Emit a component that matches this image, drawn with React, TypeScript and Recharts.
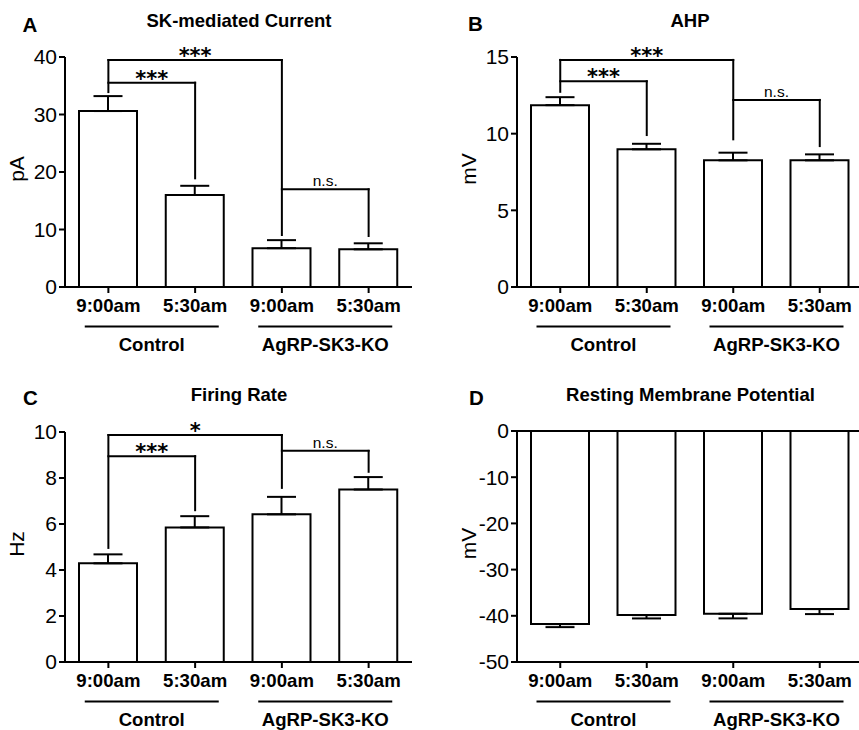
import React from 'react';
import { BarChart, Bar, XAxis, YAxis, ErrorBar, ReferenceLine } from 'recharts';

const FONT = '"Liberation Sans", Arial, Helvetica, sans-serif';
const STAR_FONT = '"DejaVu Sans", "Liberation Sans", sans-serif';

// ---- categories ----
const barKeys = ['ctl-0900', 'ctl-0530', 'ko-0900', 'ko-0530'];
const timeLabels = ['9:00am', '5:30am', '9:00am', '5:30am'];
const groupLabels = ['Control', 'AgRP-SK3-KO'];

// ---- series values (mean, SEM) ----
const skCurrent = [30.6, 16.0, 6.75, 6.55];
const skCurrentSem = [2.6, 1.6, 1.4, 1.05];
const ahp = [11.86, 8.98, 8.26, 8.26];
const ahpSem = [0.52, 0.36, 0.5, 0.39];
const firingRate = [4.29, 5.85, 6.42, 7.5];
const firingRateSem = [0.39, 0.49, 0.76, 0.54];
const restingPotential = [-41.8, -39.85, -39.56, -38.55];
const restingPotentialSem = [0.65, 0.72, 1.0, 1.08];

// ---- tick labels ----
const skTicks = [0, 10, 20, 30, 40];
const ahpTicks = [0, 5, 10, 15];
const firingTicks = [0, 2, 4, 6, 8, 10];
const rmpTicks = [-50, -40, -30, -20, -10, 0];

// ---- significance brackets: from bar, to bar, bracket level, leg end under "from" (null = none), leg end under "to", text ----
type Bracket = { from: number; to: number; level: number; fromEnd: number | null; toEnd: number; text: string };
const skBrackets: Bracket[] = [
  { from: 0, to: 2, level: 39.48, fromEnd: 33.9, toEnd: 9.04, text: '***' },
  { from: 0, to: 1, level: 35.53, fromEnd: null, toEnd: 18.9, text: '***' },
  { from: 2, to: 3, level: 16.99, fromEnd: null, toEnd: 8.87, text: 'n.s.' },
];
const ahpBrackets: Bracket[] = [
  { from: 0, to: 2, level: 14.81, fromEnd: 12.73, toEnd: 9.63, text: '***' },
  { from: 0, to: 1, level: 13.42, fromEnd: null, toEnd: 9.91, text: '***' },
  { from: 2, to: 3, level: 12.2, fromEnd: null, toEnd: 9.19, text: 'n.s.' },
];
const firingBrackets: Bracket[] = [
  { from: 0, to: 2, level: 9.87, fromEnd: 4.96, toEnd: 7.57, text: '*' },
  { from: 0, to: 1, level: 8.95, fromEnd: null, toEnd: 6.6, text: '***' },
  { from: 2, to: 3, level: 9.18, fromEnd: null, toEnd: 8.27, text: 'n.s.' },
];

type Row = { key: string; value: number; err: [number, number] };
function buildRows(values: number[], sem: number[], downward: boolean): Row[] {
  return barKeys.map((k, i) => ({
    key: k,
    value: values[i],
    err: downward ? [sem[i], 0] : [0, sem[i]],
  }));
}

const BLACK = '#000';

const BracketText = (props: any) => {
  const vb = props.viewBox || {};
  let cx: number;
  let y: number;
  if (vb.x1 != null) {
    cx = (vb.x1 + vb.x2) / 2;
    y = Math.min(vb.y1, vb.y2);
  } else {
    cx = (vb.x ?? 0) + (vb.width ?? 0) / 2;
    y = vb.y ?? 0;
  }
  const stars = String(props.text).includes('*');
  return (
    <text
      x={cx}
      y={stars ? y + 3 : y - 3.3}
      textAnchor="middle"
      fontFamily={stars ? STAR_FONT : FONT}
      fontWeight={stars ? 'bold' : 'normal'}
      fontSize={stars ? 21 : 15.5}
      fill={BLACK}
    >
      {props.text}
    </text>
  );
};

const AxisTitle = (props: any) => {
  const vb = props.viewBox || {};
  const cx = (vb.x ?? 0) + (vb.width ?? 0) - 48.5;
  const cy = (vb.y ?? 0) + (vb.height ?? 0) / 2 - 3;
  return (
    <text
      transform={`translate(${cx}, ${cy}) rotate(-90)`}
      textAnchor="middle"
      dominantBaseline="central"
      fontFamily={FONT}
      fontSize={21}
      fill={BLACK}
    >
      {props.text}
    </text>
  );
};

const CategoryTick = (props: any) => {
  const { x, y, payload, width } = props;
  const i: number = payload && payload.index != null ? payload.index : props.index;
  const step = (typeof width === 'number' && width > 0 ? width : 346) / barKeys.length;
  const groupStart = i % 2 === 0;
  const mid = x + step / 2;
  return (
    <g>
      <text x={x} y={y + 18.6} textAnchor="middle" fontFamily={FONT} fontWeight="bold" fontSize={18.6} fill={BLACK}>
        {timeLabels[i]}
      </text>
      {groupStart && (
        <g>
          <line x1={mid - 67} x2={mid + 67} y1={y + 33.5} y2={y + 33.5} stroke={BLACK} strokeWidth={2.2} />
          <text x={mid} y={y + 57.6} textAnchor="middle" fontFamily={FONT} fontWeight="bold" fontSize={18.6} fill={BLACK}>
            {groupLabels[i / 2]}
          </text>
        </g>
      )}
    </g>
  );
};

function renderBrackets(brackets: Bracket[]) {
  const out: React.ReactNode[] = [];
  brackets.forEach((b, i) => {
    const a = barKeys[b.from];
    const c = barKeys[b.to];
    out.push(
      <ReferenceLine
        key={`h${i}`}
        segment={[{ x: a, y: b.level }, { x: c, y: b.level }]}
        stroke={BLACK}
        strokeWidth={2}
        strokeLinecap="square"
        label={(p: any) => <BracketText {...p} text={b.text} />}
      />
    );
    out.push(
      <ReferenceLine
        key={`t${i}`}
        segment={[{ x: c, y: b.level }, { x: c, y: b.toEnd }]}
        stroke={BLACK}
        strokeWidth={2}
        strokeLinecap="square"
      />
    );
    if (b.fromEnd != null) {
      out.push(
        <ReferenceLine
          key={`f${i}`}
          segment={[{ x: a, y: b.level }, { x: a, y: b.fromEnd }]}
          stroke={BLACK}
          strokeWidth={2}
          strokeLinecap="square"
        />
      );
    }
  });
  return out;
}

type PanelProps = {
  left: number;
  top: number;
  width: number;
  height: number;
  marginTop: number;
  marginRight: number;
  yAxisWidth: number;
  xAxisHeight: number;
  domain: [number, number];
  ticks: number[];
  unit: string;
  rows: Row[];
  brackets: Bracket[];
  zeroLine?: boolean;
};

const Panel = (p: PanelProps) => (
  <div style={{ position: 'absolute', left: p.left, top: p.top, width: p.width, height: p.height }}>
    <BarChart
      width={p.width}
      height={p.height}
      data={p.rows}
      margin={{ top: p.marginTop, right: p.marginRight, left: 0, bottom: 0 }}
    >
      <XAxis
        dataKey="key"
        type="category"
        interval={0}
        height={p.xAxisHeight}
        tickSize={6}
        tickMargin={0}
        axisLine={{ stroke: BLACK, strokeWidth: 2 }}
        tickLine={{ stroke: BLACK, strokeWidth: 2 }}
        tick={(tp: any) => <CategoryTick {...tp} />}
      />
      <YAxis
        type="number"
        domain={p.domain}
        ticks={p.ticks}
        interval={0}
        width={p.yAxisWidth}
        tickSize={6}
        tickMargin={2}
        axisLine={{ stroke: BLACK, strokeWidth: 2 }}
        tickLine={{ stroke: BLACK, strokeWidth: 2 }}
        tick={{ fill: BLACK, fontSize: 21, fontFamily: FONT }}
        label={(lp: any) => <AxisTitle {...lp} text={p.unit} />}
      />
      {p.zeroLine && <ReferenceLine y={0} stroke={BLACK} strokeWidth={2} />}
      <Bar dataKey="value" fill="#fff" stroke={BLACK} strokeWidth={2} barSize={58} isAnimationActive={false}>
        <ErrorBar dataKey="err" width={14.5} stroke={BLACK} strokeWidth={2} direction="y" isAnimationActive={false} />
      </Bar>
      {renderBrackets(p.brackets)}
    </BarChart>
  </div>
);

const Heading = ({ x, y, text, size, anchor }: { x: number; y: number; text: string; size: number; anchor: 'start' | 'middle' }) => (
  <text x={x} y={y} textAnchor={anchor} fontFamily={FONT} fontWeight="bold" fontSize={size} fill={BLACK}>
    {text}
  </text>
);

export default function App() {
  return (
    <div
      style={{
        position: 'absolute',
        left: 0,
        top: 0,
        width: 859,
        height: 730,
        overflow: 'hidden',
        background: '#fff',
        fontFamily: FONT,
      }}
    >
      <Panel
        left={0}
        top={0}
        width={430}
        height={360}
        marginTop={57}
        marginRight={18}
        yAxisWidth={65}
        xAxisHeight={73}
        domain={[0, 40]}
        ticks={skTicks}
        unit="pA"
        rows={buildRows(skCurrent, skCurrentSem, false)}
        brackets={skBrackets}
      />
      <Panel
        left={430}
        top={0}
        width={440}
        height={360}
        marginTop={57}
        marginRight={7}
        yAxisWidth={87}
        xAxisHeight={73}
        domain={[0, 15]}
        ticks={ahpTicks}
        unit="mV"
        rows={buildRows(ahp, ahpSem, false)}
        brackets={ahpBrackets}
      />
      <Panel
        left={0}
        top={360}
        width={430}
        height={370}
        marginTop={72}
        marginRight={18}
        yAxisWidth={65}
        xAxisHeight={68}
        domain={[0, 10]}
        ticks={firingTicks}
        unit="Hz"
        rows={buildRows(firingRate, firingRateSem, false)}
        brackets={firingBrackets}
      />
      <Panel
        left={430}
        top={360}
        width={440}
        height={370}
        marginTop={71}
        marginRight={7}
        yAxisWidth={87}
        xAxisHeight={68}
        domain={[-50, 0]}
        ticks={rmpTicks}
        unit="mV"
        rows={buildRows(restingPotential, restingPotentialSem, true)}
        brackets={[]}
        zeroLine
      />
      <svg width={859} height={730} style={{ position: 'absolute', left: 0, top: 0, pointerEvents: 'none' }}>
        <Heading x={22.5} y={31.7} text="A" size={20.5} anchor="start" />
        <Heading x={468} y={30.5} text="B" size={20.5} anchor="start" />
        <Heading x={23} y={405} text="C" size={20.5} anchor="start" />
        <Heading x={469} y={405} text="D" size={20.5} anchor="start" />
        <Heading x={239} y={27.3} text="SK-mediated Current" size={18.5} anchor="middle" />
        <Heading x={690} y={26.7} text="AHP" size={18.5} anchor="middle" />
        <Heading x={239} y={400.7} text="Firing Rate" size={18.5} anchor="middle" />
        <Heading x={690.5} y={400.7} text="Resting Membrane Potential" size={18.5} anchor="middle" />
      </svg>
    </div>
  );
}
